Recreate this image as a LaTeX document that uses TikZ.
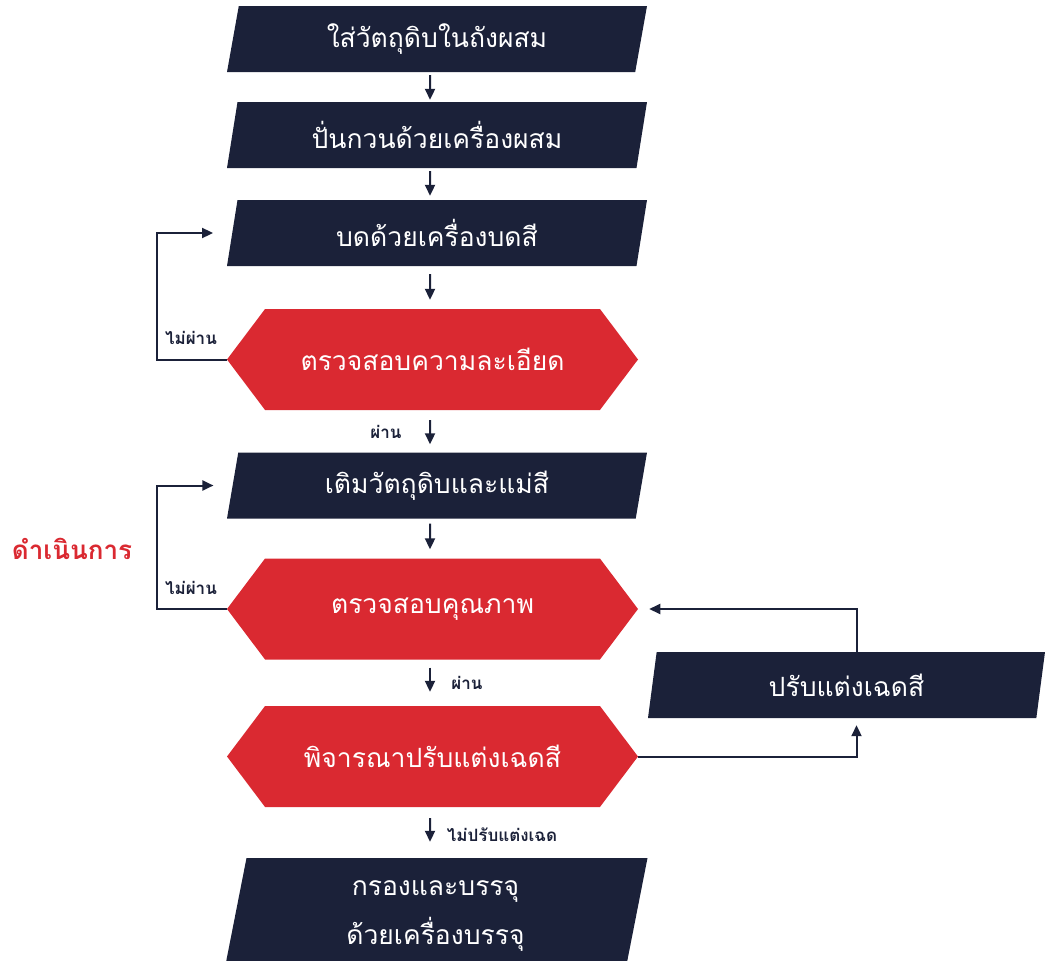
\documentclass[tikz,border=0pt]{standalone}
\usepackage{fontspec}
\setmainfont[Script=Thai]{Loma}
\usepackage{xcolor}
\usetikzlibrary{arrows.meta}
\usetikzlibrary{shapes.geometric,shapes.symbols}
\usetikzlibrary{calc}

\definecolor{navy}{HTML}{1B2139}
\definecolor{brandred}{HTML}{DA2931}

\tikzset{
	stepbox/.style={trapezium, trapezium left angle=69, trapezium right angle=111,
		trapezium stretches body, fill=navy, text=white, inner sep=0pt,
		minimum width=420, minimum height=66, font=\fontsize{26.5}{30}\selectfont},
	checkbox/.style={signal, signal to=west and east, signal pointer angle=106,
		fill=brandred, text=white, inner sep=0pt,
		minimum width=411, minimum height=101, font=\fontsize{26.5}{30}\selectfont},
	arr/.style={-{Triangle[length=11,width=10]}, draw=navy, line width=2},
	lbl/.style={text=navy, font=\bfseries\fontsize{17}{20}\selectfont, inner sep=0pt}
}

\begin{document}
\begin{tikzpicture}[x=1pt,y=-1pt]
	\useasboundingbox (0,0) rectangle (1045,961);
	
	% main column
	\node[stepbox] (b1) at (437,39) {ใส่วัตถุดิบในถังผสม};
	\node[stepbox] (b2) at (437,135) {ปั่นกวนด้วยเครื่องผสม};
	\node[stepbox] (b3) at (437,233) {บดด้วยเครื่องบดสี};
	\node[checkbox] (h1) at (432.5,359.5) {ตรวจสอบความละเอียด};
	\node[stepbox] (b4) at (437,485.5) {เติมวัตถุดิบและแม่สี};
	\node[checkbox] (h2) at (432.5,609) {ตรวจสอบคุณภาพ};
	\node[checkbox] (h3) at (432.5,756.5) {พิจารณาปรับแต่งเฉดสี};
	\node[stepbox, trapezium left angle=72, trapezium right angle=108,
		minimum width=424, minimum height=117, align=center,
		font=\fontsize{26.5}{49}\selectfont] (b5) at (435.5,916.5)
		{กรองและบรรจุ\\ด้วยเครื่องบรรจุ};
	
	% side box
	\node[stepbox, minimum width=397] (b6) at (846.5,685) {ปรับแต่งเฉดสี};
	
	\node[text=brandred, font=\bfseries\fontsize{26}{30}\selectfont] (stage) at (72,549) {ดำเนินการ};
	
	% arrows down
	\draw[arr, shorten <=3, shorten >=2] ([xshift=-7]b1.south) -- ([xshift=-7]b2.north);
	\draw[arr, shorten <=3, shorten >=4] ([xshift=-7]b2.south) -- ([xshift=-7]b3.north);
	\draw[arr, shorten <=8, shorten >=9] ([xshift=-7]b3.south) -- ([xshift=-2.5]h1.north);
	\draw[arr, shorten <=10, shorten >=8] ([xshift=-2.5]h1.south) -- ([xshift=-7]b4.north);
	\draw[arr, shorten <=5, shorten >=9] ([xshift=-7]b4.south) -- ([xshift=-2.5]h2.north);
	\draw[arr, shorten <=8, shorten >=14] ([xshift=-2.5]h2.south) -- ([xshift=-2.5]h3.north);
	\draw[arr, shorten <=11, shorten >=16] ([xshift=-2.5]h3.south) -- ([xshift=-5.5]b5.north);
	
	% loops
	\draw[arr] (h1.west) -- ++(-70,0) |- ([xshift=-19]b3.west);
	\draw[arr] (h2.west) -- ++(-70,0) |- ([xshift=-19]b4.west);
	\draw[arr] (h3.east) -| ($(b6.south)+(10,7)$);
	\draw[arr] ($(b6.north)+(10,0)$) |- ([xshift=11]h2.east);
	
	\node[lbl] (no1) at (191,338) {ไม่ผ่าน};
	\node[lbl] (no2) at (191,588) {ไม่ผ่าน};
	\node[lbl] (yes1) at (386,432) {ผ่าน};
	\node[lbl] (yes2) at (467,683) {ผ่าน};
	\node[lbl] (skip) at (502,835) {ไม่ปรับแต่งเฉด};
\end{tikzpicture}
\end{document}
